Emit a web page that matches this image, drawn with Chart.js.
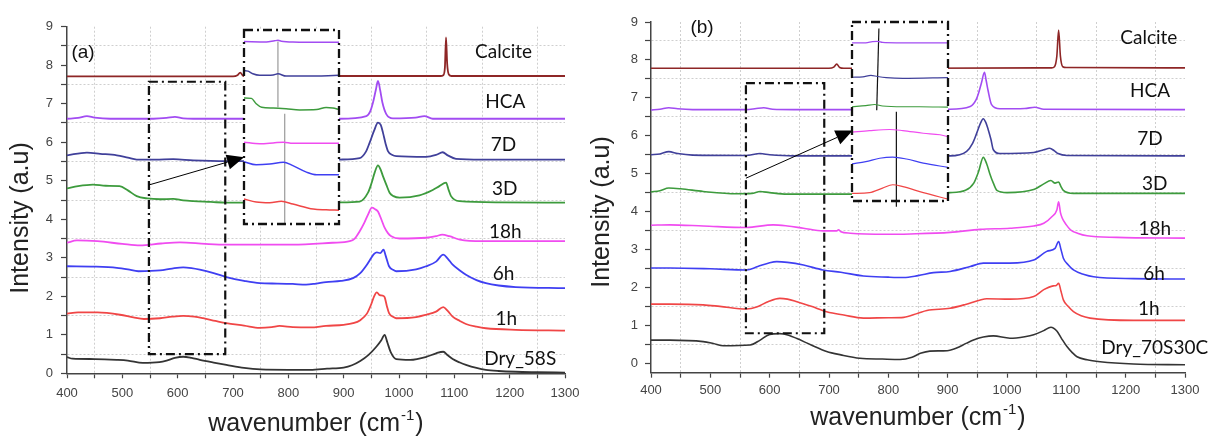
<!DOCTYPE html>
<html>
<head>
<meta charset="utf-8">
<script src="https://cdn.jsdelivr.net/npm/chart.js@4.4.0/dist/chart.umd.min.js"></script>
<style>
  html, body { margin: 0; padding: 0; background: #fff; }
  #wrap { position: relative; width: 1209px; height: 436px; overflow: hidden; }
  canvas { position: absolute; top: 0; }
</style>
</head>
<body>
<div id="wrap">
  <canvas id="chartA" width="600" height="436" style="left:0px"></canvas>
  <canvas id="chartB" width="629" height="436" style="left:580px"></canvas>
  <canvas id="insetA"></canvas>
  <canvas id="insetB"></canvas>
</div>
<script>
// Raman spectra, offset stacked: [wavenumber, intensity]
const namesA = ['Dry_58S', '1h', '6h', '18h', '3D', '7D', 'HCA', 'Calcite'];
const namesB = ['Dry_70S30C', '1h', '6h', '18h', '3D', '7D', 'HCA', 'Calcite'];
const colours = ['#343434', '#f04646', '#3f3ff2', '#f04cf0', '#3d9b3d', '#40409a', '#a24cf2', '#8e2626'];

const xTicks = [400, 450, 500, 550, 600, 650, 700, 750, 800, 850, 900, 950, 1000, 1050, 1100, 1150, 1200, 1250, 1300];
const yTicks = [0, 0.5, 1, 1.5, 2, 2.5, 3, 3.5, 4, 4.5, 5, 5.5, 6, 6.5, 7, 7.5, 8, 8.5, 9];

// ---- panel (a): 58S glass ----
const dryA = [[400,0.42],[410,0.38],[450,0.37],[490,0.35],[510,0.33],[537,0.27],[567,0.29],[580,0.33],[595,0.40],[610,0.43],[625,0.40],[640,0.35],[665,0.28],[688,0.22],[720,0.14],[750,0.10],[800,0.09],[840,0.09],[870,0.12],[900,0.15],[915,0.21],[930,0.32],[945,0.48],[959,0.69],[968,0.86],[974,1.00],[979,0.80],[985,0.55],[995,0.37],[1020,0.35],[1050,0.43],[1067,0.52],[1080,0.56],[1088,0.47],[1097,0.37],[1110,0.28],[1121,0.22],[1140,0.14],[1157,0.09],[1180,0.06],[1211,0.04],[1250,0.03],[1300,0.02]];
const oneHA = [[400,1.55],[420,1.58],[455,1.58],[496,1.52],[520,1.45],[539,1.41],[568,1.43],[590,1.47],[610,1.49],[630,1.47],[646,1.43],[668,1.36],[688,1.30],[720,1.24],[748,1.18],[770,1.20],[784,1.23],[808,1.20],[840,1.19],[868,1.23],[900,1.26],[917,1.30],[930,1.38],[942,1.55],[950,1.80],[955,2.00],[960,2.10],[965,2.03],[970,2.02],[974,1.98],[978,1.75],[982,1.56],[990,1.46],[995,1.43],[1031,1.46],[1049,1.52],[1067,1.60],[1080,1.72],[1088,1.62],[1097,1.47],[1110,1.36],[1121,1.28],[1140,1.21],[1157,1.17],[1211,1.13],[1300,1.11]];
const sixHA = [[400,2.78],[450,2.77],[490,2.74],[510,2.70],[529,2.65],[568,2.67],[590,2.72],[610,2.75],[625,2.73],[640,2.69],[665,2.60],[688,2.50],[720,2.40],[748,2.34],[780,2.33],[808,2.32],[832,2.30],[850,2.33],[868,2.37],[895,2.40],[917,2.47],[930,2.60],[942,2.82],[950,3.00],[955,3.10],[960,3.14],[966,3.12],[972,3.21],[976,3.05],[982,2.78],[990,2.68],[995,2.65],[1031,2.70],[1049,2.78],[1067,2.90],[1080,3.08],[1088,2.98],[1097,2.82],[1110,2.67],[1121,2.56],[1140,2.42],[1157,2.34],[1180,2.28],[1211,2.24],[1300,2.21]];
const eighteenHA = [[400,3.39],[418,3.45],[455,3.43],[500,3.36],[532,3.32],[570,3.37],[604,3.40],[650,3.36],[688,3.34],[750,3.34],[808,3.34],[880,3.39],[911,3.43],[920,3.50],[929,3.69],[937,3.90],[944,4.12],[951,4.30],[957,4.26],[962,4.20],[968,4.00],[974,3.78],[980,3.64],[986,3.56],[1001,3.50],[1049,3.52],[1067,3.56],[1078,3.60],[1091,3.56],[1110,3.47],[1151,3.43],[1300,3.43]];
const threeDA = [[400,4.80],[420,4.86],[447,4.90],[470,4.87],[495,4.86],[510,4.75],[526,4.60],[545,4.54],[568,4.52],[592,4.53],[610,4.49],[628,4.47],[660,4.45],[688,4.43],[720,4.43],[800,4.43],[893,4.44],[929,4.46],[944,4.69],[950,4.92],[956,5.21],[962,5.40],[967,5.28],[971,5.12],[977,4.90],[983,4.69],[990,4.60],[1001,4.56],[1037,4.62],[1061,4.76],[1073,4.86],[1085,4.95],[1090,4.75],[1094,4.60],[1109,4.47],[1182,4.44],[1300,4.43]];
const sevenDA = [[400,5.66],[436,5.73],[460,5.70],[490,5.66],[510,5.60],[526,5.55],[560,5.55],[592,5.56],[628,5.53],[688,5.51],[720,5.51],[800,5.52],[893,5.55],[929,5.59],[940,5.75],[947,5.99],[955,6.30],[962,6.51],[967,6.45],[971,6.25],[976,5.95],[980,5.77],[988,5.67],[995,5.64],[1049,5.62],[1067,5.67],[1079,5.74],[1088,5.66],[1103,5.57],[1150,5.55],[1300,5.55]];
const hcaA = [[400,6.61],[420,6.63],[436,6.68],[450,6.64],[478,6.61],[556,6.61],[580,6.63],[595,6.66],[610,6.62],[628,6.61],[720,6.61],[893,6.61],[941,6.68],[948,6.80],[953,7.03],[958,7.35],[962,7.59],[966,7.35],[970,7.03],[977,6.73],[989,6.62],[1030,6.64],[1046,6.68],[1061,6.61],[1300,6.61]];
const calciteA = [[400,7.71],[700,7.71],[708,7.74],[713,7.81],[718,7.73],[725,7.71],[893,7.72],[1075,7.72],[1080,7.74],[1083,7.95],[1085,8.72],[1087,8.05],[1090,7.76],[1095,7.72],[1300,7.72]];

// enlarged 550-690 region shown in the inset of (a)
const insetHcaA = [[550,8.61],[583,8.60],[595,8.63],[600,8.64],[605,8.62],[622,8.60],[690,8.59]];
const insetSevenDA = [[550,7.85],[556,7.84],[563,7.77],[573,7.73],[593,7.74],[600,7.77],[612,7.71],[642,7.71],[690,7.73]];
const insetThreeDA = [[550,7.14],[561,7.13],[568,6.99],[576,6.90],[593,6.88],[612,6.86],[632,6.83],[657,6.84],[671,6.89],[681,6.88],[690,6.84]];
const insetEighteenHA = [[550,5.99],[573,5.95],[593,5.97],[608,5.99],[622,5.96],[690,5.96]];
const insetSixHA = [[550,5.48],[568,5.40],[588,5.42],[608,5.47],[622,5.38],[642,5.21],[657,5.14],[690,5.14]];
const insetOneHA = [[550,4.51],[568,4.43],[588,4.41],[605,4.45],[622,4.38],[652,4.25],[671,4.23],[690,4.22]];
const insetMarkA = [[[600,8.61],[600,6.90]], [[610,6.73],[610,3.86]]];

// ---- panel (b): 70S30C glass ----
const dryB = [[400,0.61],[432,0.61],[488,0.57],[505,0.52],[522,0.46],[567,0.48],[584,0.61],[600,0.76],[617,0.78],[632,0.74],[646,0.65],[670,0.48],[696,0.31],[720,0.22],[752,0.13],[790,0.11],[820,0.10],[840,0.16],[854,0.26],[870,0.32],[899,0.33],[915,0.40],[932,0.53],[950,0.65],[960,0.69],[977,0.72],[1005,0.66],[1030,0.70],[1045,0.75],[1062,0.86],[1074,0.95],[1084,0.85],[1092,0.65],[1101,0.44],[1110,0.28],[1118,0.17],[1135,0.09],[1157,0.04],[1213,-0.02],[1300,-0.04]];
const oneHB = [[400,1.56],[432,1.56],[488,1.54],[516,1.50],[561,1.43],[578,1.48],[598,1.63],[617,1.71],[630,1.69],[646,1.62],[670,1.50],[696,1.36],[725,1.27],[758,1.19],[800,1.20],[826,1.21],[850,1.32],[865,1.39],[904,1.45],[930,1.55],[955,1.67],[966,1.70],[1005,1.69],[1045,1.76],[1062,1.94],[1078,2.04],[1083,2.05],[1087,2.11],[1091,1.90],[1095,1.67],[1103,1.50],[1112,1.36],[1125,1.25],[1140,1.19],[1213,1.13],[1300,1.13]];
const sixHB = [[400,2.51],[432,2.51],[500,2.49],[561,2.46],[580,2.55],[600,2.65],[612,2.68],[630,2.66],[657,2.59],[690,2.46],[720,2.40],[758,2.30],[800,2.27],[826,2.26],[850,2.31],[876,2.39],[904,2.42],[938,2.55],[960,2.64],[1005,2.64],[1045,2.72],[1067,2.95],[1081,3.03],[1087,3.21],[1091,3.00],[1095,2.77],[1103,2.60],[1112,2.46],[1130,2.34],[1146,2.28],[1213,2.23],[1300,2.22]];
const eighteenHB = [[400,3.64],[432,3.65],[488,3.62],[561,3.58],[606,3.65],[630,3.62],[657,3.56],[690,3.49],[713,3.49],[716,3.52],[720,3.47],[736,3.43],[797,3.40],[837,3.41],[904,3.45],[955,3.53],[1005,3.56],[1045,3.62],[1062,3.69],[1076,3.87],[1084,4.04],[1087,4.26],[1090,3.98],[1093,3.83],[1100,3.65],[1107,3.52],[1120,3.42],[1135,3.36],[1185,3.32],[1300,3.30]];
const threeDB = [[400,4.52],[415,4.55],[430,4.62],[450,4.60],[488,4.53],[544,4.47],[570,4.48],[584,4.53],[600,4.50],[629,4.46],[738,4.46],[800,4.47],[904,4.50],[930,4.56],[944,4.75],[952,5.05],[960,5.43],[966,5.25],[971,5.00],[977,4.75],[983,4.56],[1000,4.50],[1045,4.58],[1062,4.73],[1074,4.82],[1081,4.75],[1087,4.78],[1091,4.66],[1095,4.56],[1112,4.48],[1300,4.48]];
const sevenDB = [[400,5.50],[415,5.52],[430,5.58],[445,5.53],[470,5.49],[560,5.48],[584,5.53],[600,5.50],[640,5.47],[738,5.47],[800,5.47],[904,5.47],[932,5.59],[942,5.80],[949,6.07],[955,6.32],[960,6.45],[964,6.36],[968,6.18],[973,5.90],[977,5.63],[988,5.53],[1045,5.56],[1062,5.63],[1072,5.67],[1080,5.60],[1086,5.53],[1101,5.48],[1300,5.47]];
const hcaB = [[400,6.68],[415,6.70],[430,6.74],[445,6.71],[470,6.69],[560,6.69],[575,6.71],[590,6.74],[605,6.70],[640,6.69],[738,6.69],[800,6.70],[904,6.70],[938,6.77],[948,6.95],[952,7.12],[957,7.40],[962,7.67],[965,7.45],[968,7.20],[974,6.82],[988,6.71],[1030,6.72],[1047,6.75],[1062,6.70],[1300,6.69]];
const calciteB = [[400,7.78],[700,7.78],[708,7.81],[713,7.89],[718,7.80],[725,7.78],[850,7.78],[1075,7.79],[1080,7.82],[1084,8.10],[1087,8.79],[1090,8.10],[1094,7.82],[1100,7.80],[1300,7.79]];

// enlarged 560-692 region shown in the inset of (b)
const insetHcaB = [[560,8.46],[579,8.46],[588,8.49],[595,8.50],[602,8.47],[621,8.46],[692,8.46]];
const insetSevenDB = [[560,7.55],[575,7.56],[586,7.60],[595,7.57],[607,7.54],[630,7.52],[692,7.54]];
const insetThreeDB = [[560,6.77],[579,6.80],[591,6.83],[602,6.79],[630,6.77],[653,6.77],[692,6.76]];
const insetEighteenHB = [[560,6.10],[584,6.14],[612,6.17],[630,6.14],[658,6.07],[681,6.03],[692,5.98]];
const insetSixHB = [[560,5.26],[579,5.32],[598,5.41],[616,5.44],[635,5.39],[658,5.28],[692,5.17]];
const insetOneHB = [[560,4.48],[584,4.50],[602,4.62],[616,4.71],[630,4.66],[658,4.50],[692,4.33]];
const insetMarkB = [[[597,8.84],[594,6.68]], [[621,6.64],[621,4.13]]];

// label anchors (data units), same order as the names
const labelPosA = [[1219,0.22],[1194,1.26],[1189,2.43],[1192,3.52],[1191,4.64],[1189,5.77],[1192,6.90],[1189,8.18]];
const labelPosB = [[1249,0.25],[1239,1.26],[1248,2.20],[1249,3.39],[1249,4.57],[1241,5.76],[1241,7.02],[1239,8.42]];

const TICK_FONT = { family: "'Liberation Sans', Arial, sans-serif", size: 13 };
const DASH_DOT = [9, 4, 2, 4];

function makeSets(series, width) {
  return series.map((pts, i) => ({
    data: pts,
    borderColor: colours[i],
    borderWidth: width,
    pointRadius: 0,
    fill: false,
    cubicInterpolationMode: 'monotone'
  }));
}

function axisOptions(p) {
  return {
    responsive: false,
    animation: false,
    events: [],
    layout: { padding: { left: 0, bottom: 0, top: p.top, right: p.right } },
    plugins: { legend: { display: false }, tooltip: { enabled: false } },
    scales: {
      x: {
        type: 'linear', min: 400, max: 1300,
        afterBuildTicks: s => { s.ticks = xTicks.map(v => ({ value: v })); },
        afterFit: s => { s.height = p.xAxisH; },
        ticks: { autoSkip: false, maxRotation: 0, padding: p.xPad, color: '#444', font: TICK_FONT,
                 callback: v => (v % 100 === 0 ? String(v) : '') },
        grid: { color: c => (c.tick && c.tick.value % 100 === 50 ? '#cfcfcf' : 'rgba(0,0,0,0)'),
                lineWidth: 1, tickColor: '#444', tickLength: 5, tickWidth: 1.2 },
        border: { color: '#444', width: 1.5, dash: [2, 2] }
      },
      y: {
        type: 'linear', min: p.yMin, max: 9,
        afterBuildTicks: s => { s.ticks = yTicks.map(v => ({ value: v })); },
        afterFit: s => { s.width = p.yAxisW; },
        ticks: { autoSkip: false, padding: p.yPad, color: '#444', font: TICK_FONT,
                 callback: v => (v % 1 === 0 ? String(v) : '') },
        grid: { color: c => (c.tick && Math.abs(c.tick.value % 1 - 0.5) < 1e-6 ? '#cfcfcf' : 'rgba(0,0,0,0)'),
                lineWidth: 1, tickColor: '#444', tickLength: 6, tickWidth: 1.2 },
        border: { color: '#444', width: 1.5, dash: [2, 2] }
      }
    }
  };
}

function drawArrow(ctx, x1, y1, x2, y2) {
  const ang = Math.atan2(y2 - y1, x2 - x1);
  const len = 17, half = 7.5;
  const bx = x2 - len * Math.cos(ang), by = y2 - len * Math.sin(ang);
  ctx.beginPath();
  ctx.moveTo(x1, y1);
  ctx.lineTo(bx, by);
  ctx.stroke();
  ctx.beginPath();
  ctx.moveTo(x2, y2);
  ctx.lineTo(bx + half * Math.sin(ang), by - half * Math.cos(ang));
  ctx.lineTo(bx - half * Math.sin(ang), by + half * Math.cos(ang));
  ctx.closePath();
  ctx.fill();
}

// zoom box, arrow, curve names, panel letter and axis titles
function decorPlugin(cfg) {
  return {
    id: 'decor',
    afterDatasetsDraw(chart) {
      const { ctx, scales: { x, y } } = chart;
      const b = cfg.zoomBox;
      ctx.save();
      ctx.strokeStyle = '#111';
      ctx.lineWidth = 2.2;
      ctx.setLineDash(DASH_DOT);
      ctx.strokeRect(x.getPixelForValue(b.x0), y.getPixelForValue(b.y1),
                     x.getPixelForValue(b.x1) - x.getPixelForValue(b.x0),
                     y.getPixelForValue(b.y0) - y.getPixelForValue(b.y1));
      ctx.setLineDash([]);
      ctx.lineWidth = 1;
      ctx.fillStyle = '#000';
      ctx.strokeStyle = '#000';
      const a = cfg.arrow;
      drawArrow(ctx, x.getPixelForValue(a[0]), y.getPixelForValue(a[1]),
                x.getPixelForValue(a[2]), y.getPixelForValue(a[3]));
      ctx.restore();
    },
    afterDraw(chart) {
      const { ctx, scales: { x, y } } = chart;
      ctx.save();
      ctx.fillStyle = '#111';
      ctx.font = "19px Lato, 'Open Sans', sans-serif";
      ctx.textAlign = 'center';
      ctx.textBaseline = 'alphabetic';
      cfg.names.forEach((n, i) => {
        const p = cfg.labelPos[i];
        ctx.fillText(n, x.getPixelForValue(p[0]), y.getPixelForValue(p[1]));
      });
      ctx.font = "19px 'Liberation Sans', Arial, sans-serif";
      ctx.textBaseline = 'middle';
      ctx.fillText(cfg.letter, cfg.letterAt[0], cfg.letterAt[1]);

      // y title
      ctx.fillStyle = '#222';
      ctx.font = "25px 'Liberation Sans', Arial, sans-serif";
      ctx.save();
      ctx.translate(cfg.yTitleAt[0], cfg.yTitleAt[1]);
      ctx.rotate(-Math.PI / 2);
      ctx.fillText('Intensity (a.u)', 0, 0);
      ctx.restore();

      // x title with superscript
      ctx.textAlign = 'left';
      ctx.textBaseline = 'alphabetic';
      const big = "25px 'Liberation Sans', Arial, sans-serif";
      const small = "15px 'Liberation Sans', Arial, sans-serif";
      ctx.font = big;
      const w1 = ctx.measureText('wavenumber (cm').width;
      const w3 = ctx.measureText(')').width;
      ctx.font = small;
      const w2 = ctx.measureText('-1').width + 2;
      let tx = cfg.xTitleAt[0] - (w1 + w2 + w3) / 2;
      const ty = cfg.xTitleAt[1];
      ctx.font = big;
      ctx.fillText('wavenumber (cm', tx, ty);
      ctx.font = small;
      ctx.fillText('-1', tx + w1 + 1, ty - 11);
      ctx.font = big;
      ctx.fillText(')', tx + w1 + w2, ty);
      ctx.restore();
    }
  };
}

// white inset with dash-dot frame
const insetFrame = {
  id: 'insetFrame',
  beforeDatasetsDraw(chart) {
    const { ctx, chartArea: a } = chart;
    ctx.save();
    ctx.fillStyle = '#fff';
    ctx.fillRect(a.left, a.top, a.right - a.left, a.bottom - a.top);
    ctx.restore();
  },
  afterDatasetsDraw(chart) {
    const { ctx, chartArea: a } = chart;
    ctx.save();
    ctx.strokeStyle = '#111';
    ctx.lineWidth = 2.3;
    ctx.setLineDash(DASH_DOT);
    ctx.strokeRect(a.left, a.top, a.right - a.left, a.bottom - a.top);
    ctx.restore();
  }
};

function makeInset(main, mainLeft, canvasId, box, curves, marks, markColour, lineW) {
  const pad = 8;
  const sx = main.scales.x, sy = main.scales.y;
  const l = sx.getPixelForValue(box.x0), r = sx.getPixelForValue(box.x1);
  const t = sy.getPixelForValue(box.y1), btm = sy.getPixelForValue(box.y0);
  const cv = document.getElementById(canvasId);
  cv.width = Math.round(r - l) + 2 * pad;
  cv.height = Math.round(btm - t) + 2 * pad;
  cv.style.left = Math.round(mainLeft + l - pad) + 'px';
  cv.style.top = Math.round(t - pad) + 'px';
  const sets = curves.map((pts, i) => ({
    data: pts, borderColor: colours[i + 1], borderWidth: lineW, pointRadius: 0,
    fill: false, cubicInterpolationMode: 'monotone', clip: false
  }));
  marks.forEach(m => sets.push({ data: m, borderColor: markColour, borderWidth: 1.2, pointRadius: 0, clip: false }));
  return new Chart(cv, {
    type: 'line',
    data: { datasets: sets },
    options: {
      responsive: false, animation: false, events: [],
      layout: { padding: pad },
      plugins: { legend: { display: false }, tooltip: { enabled: false } },
      scales: {
        x: { type: 'linear', display: false, min: box.ix0, max: box.ix1 },
        y: { type: 'linear', display: false, min: box.y0, max: box.y1 }
      }
    },
    plugins: [insetFrame]
  });
}

const chartA = new Chart(document.getElementById('chartA'), {
  type: 'line',
  data: { datasets: makeSets([dryA, oneHA, sixHA, eighteenHA, threeDA, sevenDA, hcaA, calciteA], 1.8) },
  options: axisOptions({ top: 26.7, right: 35, xAxisH: 62.7, yAxisW: 67, yMin: 0, xPad: 7, yPad: 8 }),
  plugins: [decorPlugin({
    names: namesA, labelPos: labelPosA,
    zoomBox: { x0: 548, x1: 686, y0: 0.5, y1: 7.57 },
    arrow: [548, 4.89, 720, 5.61],
    letter: '(a)', letterAt: [83, 53],
    yTitleAt: [21, 218], xTitleAt: [316, 431]
  })]
});

const chartB = new Chart(document.getElementById('chartB'), {
  type: 'line',
  data: { datasets: makeSets([dryB, oneHB, sixHB, eighteenHB, threeDB, sevenDB, hcaB, calciteB], 1.6) },
  options: axisOptions({ top: 22, right: 24, xAxisH: 63.3, yAxisW: 71, yMin: -0.25, xPad: 5, yPad: 7 }),
  plugins: [decorPlugin({
    names: namesB, labelPos: labelPosB,
    zoomBox: { x0: 560, x1: 692, y0: 0.79, y1: 7.39 },
    arrow: [560, 4.88, 740, 6.14],
    letter: '(b)', letterAt: [122, 28],
    yTitleAt: [22, 212], xTitleAt: [338, 425]
  })]
});

makeInset(chartA, 0, 'insetA', { x0: 719.5, x1: 891.5, y0: 3.86, y1: 8.91, ix0: 550, ix1: 690 },
  [insetOneHA, insetSixHA, insetEighteenHA, insetThreeDA, insetSevenDA, insetHcaA], insetMarkA, '#9a9a9a', 1.5);
makeInset(chartB, 580, 'insetB', { x0: 738.4, x1: 900.3, y0: 4.28, y1: 9.01, ix0: 560, ix1: 692 },
  [insetOneHB, insetSixHB, insetEighteenHB, insetThreeDB, insetSevenDB, insetHcaB], insetMarkB, '#111', 1.2);
</script>
</body>
</html>
